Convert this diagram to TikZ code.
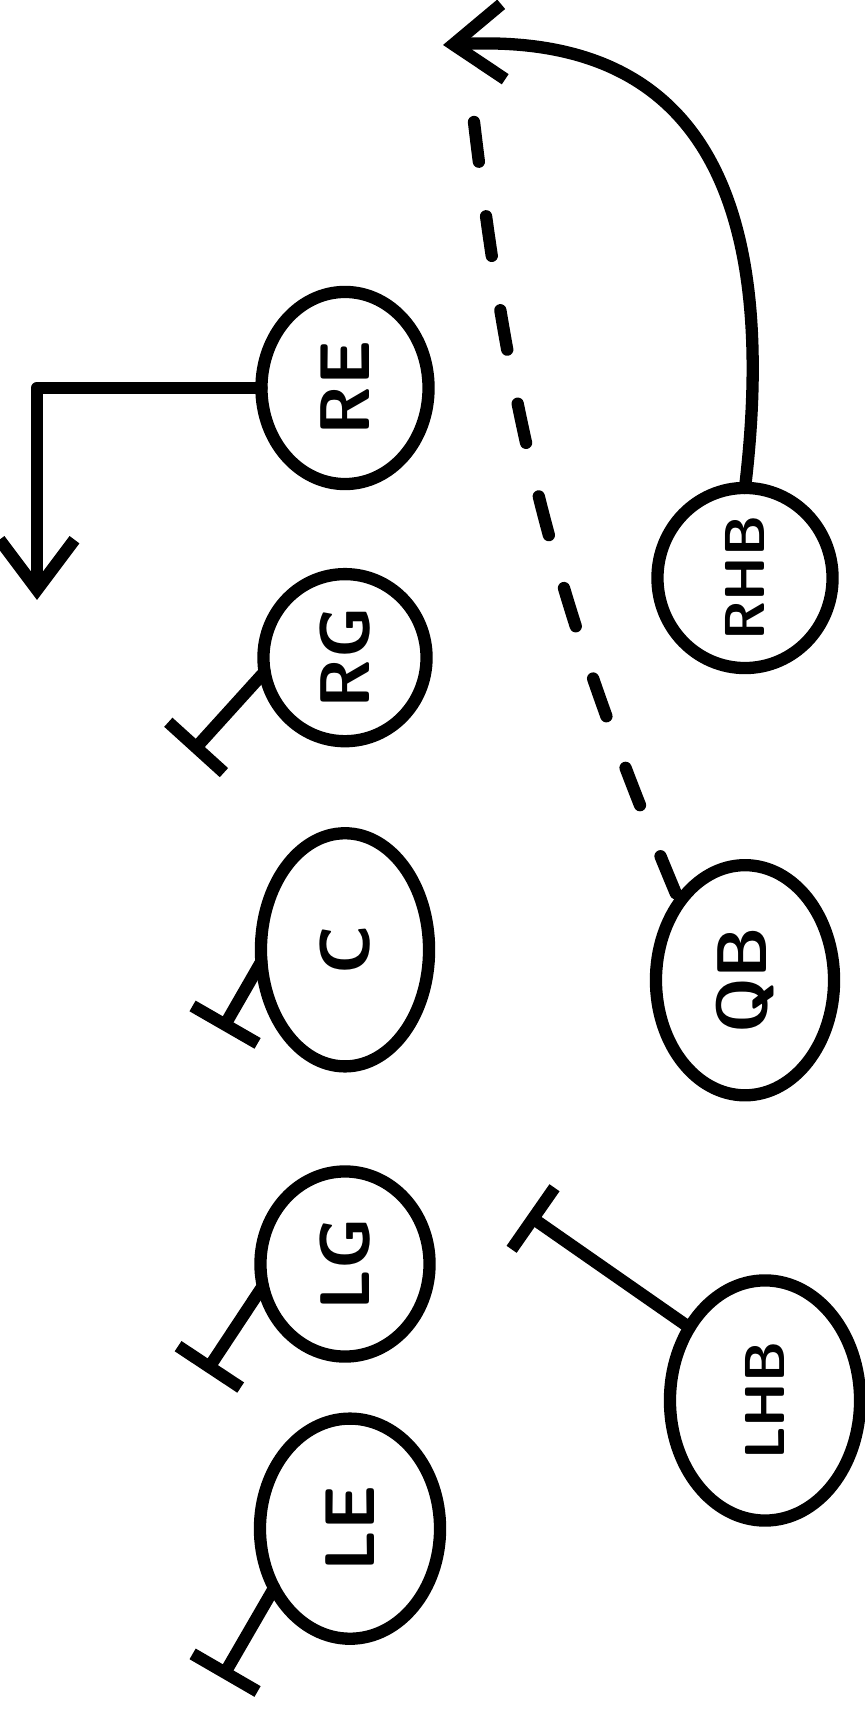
\documentclass[tikz,border=0pt]{standalone}
\usepackage{graphicx}
\usepackage{tikz}
\usetikzlibrary{shapes, arrows.meta, positioning}

\newcommand{\plyr}[1]{\rotatebox{90}{\makebox[0pt]{#1}}}

\begin{document}
\begin{tikzpicture}[
	x=0.01cm, y=-0.01cm,
	player/.style={ellipse, draw, line width=3.5pt, inner sep=0pt, outer sep=0pt,
		minimum width=1.7cm, minimum height=1.85cm,
		font=\sffamily\bfseries\fontsize{20}{20}\selectfont},
	back/.style={player, font=\sffamily\bfseries\fontsize{16}{16}\selectfont},
	line/.style={line width=3.5pt, line cap=round, line join=round},
	route/.style={line, -{Straight Barb[length=5mm, width=7.5mm]}},
	block/.style={line, -{Bar[width=7.5mm]}},
	motion/.style={line, dash pattern=on 4mm off 5.5mm}
	]
	\useasboundingbox (0,0) rectangle (864,1716);

	% line
	\node[player, minimum width=1.67cm, minimum height=1.92cm] (re) at (345,388) {\plyr{RE}};
	\node[player, minimum width=1.63cm, minimum height=1.67cm, below=0.9cm of re] (rg) {\plyr{RG}};
	\node[player, minimum width=1.68cm, minimum height=2.33cm, below=0.92cm of rg] (c) {\plyr{C}};
	\node[player, minimum width=1.69cm, minimum height=1.85cm, below=1.05cm of c] (lg) {\plyr{LG}};
	\node[player, minimum width=1.8cm, minimum height=2.2cm, below=0.62cm of lg, xshift=0.05cm] (le) {\plyr{LE}};

	% backs
	\node[back, minimum width=1.75cm, minimum height=1.8cm] (rhb) at (745,578) {\plyr{RHB}};
	\node[player, minimum width=1.78cm, minimum height=2.3cm, below=1.97cm of rhb] (qb) {\plyr{QB}};
	\node[back, minimum width=1.9cm, minimum height=2.4cm, below=1.85cm of qb, xshift=0.2cm] (lhb) {\plyr{LHB}};

	\coordinate (reend) at (37,600);
	\coordinate (rgend) at (192,752);
	\coordinate (cend) at (222,1030);
	\coordinate (lgend) at (206,1372);
	\coordinate (leend) at (222,1678);
	\coordinate (lhbend) at (528,1215);
	\coordinate (rhbend) at (443,45);
	\coordinate (mtop) at (474,122);

	% routes and blocks
	\draw[route] (re.west) -| (reend);
	\draw[block] (rg.190) -- (rgend);
	\draw[block] (c.188) -- (cend);
	\draw[block] (lg.195) -- (lgend);
	\draw[block] (le.218) -- (leend);
	\draw[block] (lhb.136) -- (lhbend);
	\draw[route] (rhb.north) .. controls (790,110) and (630,35) .. (rhbend);
	\draw[motion] (mtop) to[bend right=8] (qb.130);
\end{tikzpicture}
\end{document}
